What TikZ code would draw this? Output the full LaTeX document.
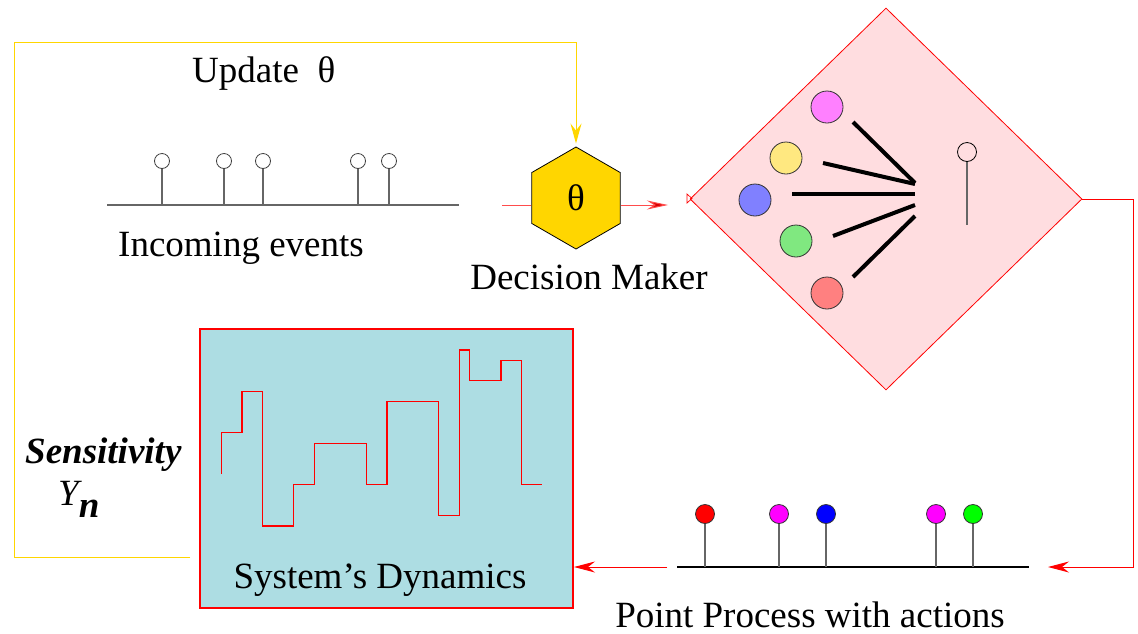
\documentclass[tikz,border=0pt]{standalone}
\usepackage{fontspec}
\setmainfont{Liberation Serif}
\usetikzlibrary{shapes.geometric,arrows.meta}
\definecolor{gold}{RGB}{255,214,0}
\definecolor{pinkfill}{RGB}{255,221,224}
\definecolor{boxblue}{RGB}{173,221,227}
\definecolor{ballm}{RGB}{255,128,255}
\definecolor{bally}{RGB}{255,232,128}
\definecolor{ballb}{RGB}{128,128,255}
\definecolor{ballg}{RGB}{128,232,128}
\definecolor{ballr}{RGB}{255,128,128}
\definecolor{pr}{RGB}{255,0,0}
\definecolor{pm}{RGB}{255,0,255}
\definecolor{pb}{RGB}{0,0,255}
\definecolor{pg}{RGB}{0,255,0}
\definecolor{lred}{RGB}{255,0,0}
\begin{document}
\begin{tikzpicture}[x=1pt,y=-1pt,
 txt/.style={font=\fontsize{37}{44}\selectfont, inner sep=0},
 ev/.style={circle, draw=black!75, fill=white, minimum size=15pt, inner sep=0, line width=0.8pt},
 act/.style={circle, draw=black!80, minimum size=19pt, inner sep=0, line width=0.8pt},
 stem/.style={draw=black!60, line width=1.2pt},
 ball/.style={circle, draw=black!80, minimum size=32pt, inner sep=0, line width=0.8pt},
 spoke/.style={line width=4pt, black},
 redln/.style={draw=lred, line width=1pt},
 yelln/.style={draw=gold, line width=1pt},
 rtip/.style={-{Stealth[length=21pt,width=11pt,inset=7pt,fill=lred]}},
 ytip/.style={-{Stealth[length=20pt,width=11pt,inset=7pt,fill=gold]}}
]
\useasboundingbox (0,0) rectangle (1138,633);

% diamond
\node[diamond, draw=lred, fill=pinkfill, minimum width=392pt, minimum height=382pt, inner sep=0, line width=0.8pt] (dm) at (886,199) {};
\draw[lred, line width=0.7pt] (687,194) -- (692,198.5) -- (687,203) -- cycle;

% balls and spokes
\node[ball, fill=ballm] (b1) at (827,107) {};
\node[ball, fill=bally] (b2) at (786,158) {};
\node[ball, fill=ballb] (b3) at (755,200) {};
\node[ball, fill=ballg] (b4) at (796,241) {};
\node[ball, fill=ballr] (b5) at (827,293) {};
\coordinate (s1a) at (853,122); \coordinate (s1b) at (915,183);
\coordinate (s2a) at (823,163); \coordinate (s2b) at (915,184);
\coordinate (s3a) at (792,194); \coordinate (s3b) at (915,194);
\coordinate (s4a) at (833,236); \coordinate (s4b) at (915,205);
\coordinate (s5a) at (853,277); \coordinate (s5b) at (915,216);
\foreach \i in {1,...,5} {\draw[spoke] (s\i a) -- (s\i b);}
\node[circle, draw=black, minimum size=19pt, inner sep=0, line width=0.8pt] (dl) at (967,152) {};
\coordinate (dlb) at (967,225);
\draw[stem] (dl.south) -- (dlb);

% hexagon
\node[regular polygon, regular polygon sides=6, shape border rotate=30, minimum size=102pt, inner sep=0, draw=black, fill=gold, line width=0.8pt, txt] (hex) at (576,198) {θ};
\coordinate (hin) at (502,205);
\coordinate (dmin) at (668,205);
\draw[redln, draw=lred!70] (hin) -- (hin -| hex.west);
\draw[redln, draw=lred!70, -{Stealth[length=21pt,width=9pt,inset=7pt,fill=lred!85!black]}] (hex.east |- hin) -- (dmin);

% yellow feedback
\coordinate (ys) at (190,557);
\draw[yelln, ytip, shorten >=3pt] (ys) -- (14,557) -- (14,42) -- (hex.north |- 0,42) -- (hex.north);

% incoming events
\draw[stem] (107,205) coordinate (ib1) -- (459,205) coordinate (ib2);
\foreach \x [count=\i] in {162,224,263,358,389} {
  \node[ev] (e\i) at (\x,161) {};
  \draw[stem] (e\i.south) -- (\x,205);
}

% system box
\node[draw=lred, fill=boxblue, line width=2pt, minimum width=373pt, minimum height=279pt, inner sep=0] (box) at (386.5,468.5) {};
\draw[lred, line width=1.3pt] (221.7,474) -- (221.7,432.7) -- (242,432.7) -- (242,391.3) -- (262.7,391.3) -- (262.7,526) -- (293.7,526) -- (293.7,484.3) -- (314.7,484.3) -- (314.7,443.3) -- (366.3,443.3) -- (366.3,484.3) -- (387,484.3) -- (387,401.7) -- (438.7,401.7) -- (438.7,515.3) -- (459.3,515.3) -- (459.3,350) -- (469.7,350) -- (469.7,380.7) -- (501,380.7) -- (501,360.3) -- (521.3,360.3) -- (521.3,484.3) -- (542.3,484.3);

% point process with actions
\draw[black, line width=1.2pt] (677,567) coordinate (pb1) -- (1029,567) coordinate (pb2);
\foreach \x/\c [count=\i] in {705/pr,779/pm,826/pb,936/pm,973/pg} {
  \node[act, fill=\c] (a\i) at (\x,514) {};
  \draw[stem] (a\i.south) -- (\x,567);
}

% red connectors
\coordinate (ppr) at (1048,567);
\draw[redln, rtip] (dm.east) -- ++(51,0) |- (ppr);
\coordinate (ppl) at (667,567);
\draw[redln, rtip] (ppl) -- (box.east |- ppl);

% texts
\node[txt, anchor=base] (inc) at (241,256) {Incoming events};
\node[txt, anchor=base] (dmk) at (589,289) {Decision Maker};
\node[txt, anchor=base west] (upd) at (192,82) {Update~~θ};
\node[txt, anchor=base] (sysd) at (380,588) {System’s Dynamics};
\node[txt, anchor=base] (ppa) at (810,627) {Point Process with actions};
\node[txt, anchor=base west, font=\fontsize{37}{44}\selectfont\bfseries\itshape] (sens) at (25,463) {Sensitivity};
\node[txt, anchor=base west] (yn) at (58,505) {\itshape Y\raisebox{-12pt}{\bfseries n}};
\end{tikzpicture}
\end{document}
